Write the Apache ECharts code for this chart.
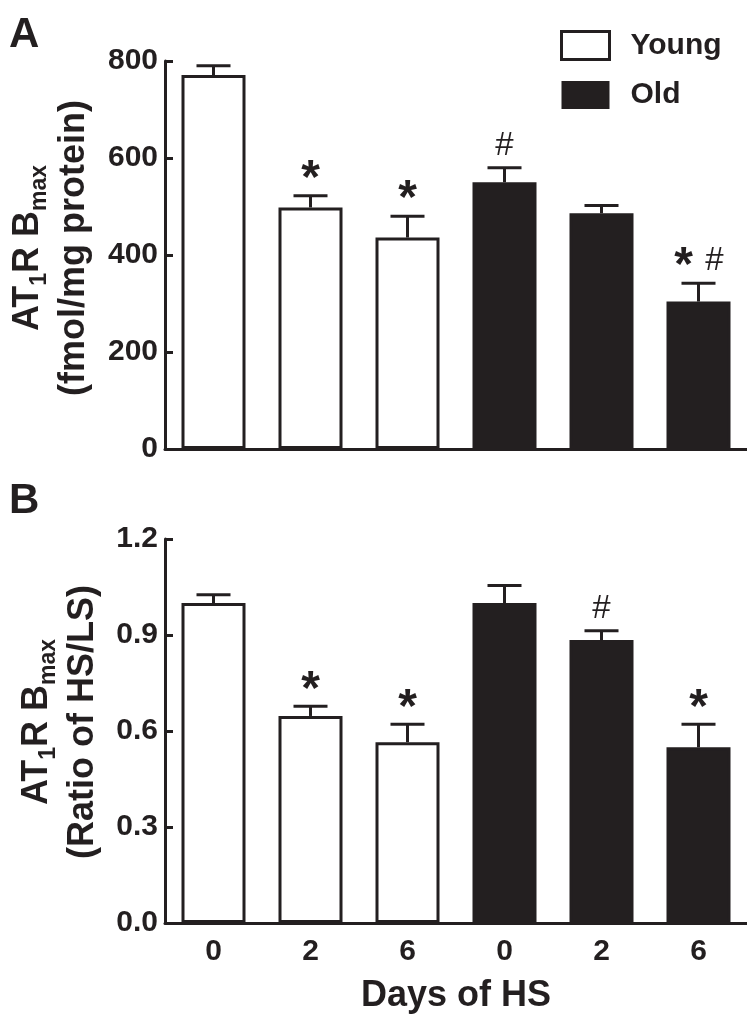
<!DOCTYPE html>
<html><head><meta charset="utf-8">
<script src="https://cdn.jsdelivr.net/npm/echarts@6/dist/echarts.min.js"></script>
<style>html,body{margin:0;padding:0;background:#fff}#c{width:747px;height:1023px}</style>
</head><body><div id="c"></div>
<script>
// ---- data ----
const categories = ['0', '2', '6', '0', '2', '6'];
const groups = ['Young', 'Young', 'Young', 'Old', 'Old', 'Old'];
const bmaxA = [771, 498, 436, 550, 486, 304];
const semA = [19, 24, 44, 30, 16, 38];
const sigA = ['', '*', '*', '#', '', '*#'];
const ratioB = [1.00, 0.647, 0.565, 1.00, 0.884, 0.549];
const semB = [0.026, 0.030, 0.056, 0.055, 0.029, 0.072];
const sigB = ['', '*', '*', '', '#', '*'];
const ticksA = [0, 200, 400, 600, 800];
const ticksB = [0.0, 0.3, 0.6, 0.9, 1.2];
const seriesNames = ['Young', 'Old'];

const INK = '#231f20';
const FONT = '"Liberation Sans", Arial, sans-serif';

function groupVals(vals, g) { return vals.map((v, i) => groups[i] === g ? v : '-'); }

function errRender(sigs) {
  return function (params, api) {
    const i = api.value(0), v = api.value(1), e = api.value(2);
    const p0 = api.coord([i, v]);
    const p1 = api.coord([i, v + e]);
    const children = [
      { type: 'line', shape: { x1: p0[0], y1: p0[1], x2: p1[0], y2: p1[1] }, style: { stroke: INK, lineWidth: 3 } },
      { type: 'line', shape: { x1: p1[0] - 17, y1: p1[1], x2: p1[0] + 17, y2: p1[1] }, style: { stroke: INK, lineWidth: 3 } }
    ];
    const s = sigs[params.dataIndex];
    const chars = s.split('');
    chars.forEach((ch, k) => {
      const dx = chars.length > 1 ? (k === 0 ? -15 : 16) : 0;
      const isStar = ch === '*';
      children.push({
        type: 'text',
        x: p1[0] + dx,
        y: p1[1] - (isStar ? 16 : 22),
        style: {
          text: ch, fill: INK, fontFamily: FONT,
          fontSize: isStar ? 48 : 33, fontWeight: isStar ? 'bold' : 'normal',
          align: 'center', verticalAlign: 'middle'
        }
      });
    });
    return { type: 'group', children };
  };
}

const chart = echarts.init(document.getElementById('c'), null, { renderer: 'canvas' });

const axisLine = { show: true, lineStyle: { color: INK, width: 3 } };

function yTitle(l2, x, y) {
  return {
    type: 'text', x: x, y: y, rotation: Math.PI / 2,
    style: {
      text: '{a|AT}{s|1}{a|R B}{s|max}\n{a|' + l2 + '}',
      align: 'center', verticalAlign: 'middle', fill: INK,
      rich: {
        a: { fontFamily: FONT, fontWeight: 'bold', fontSize: 36, lineHeight: 46, fill: INK },
        s: { fontFamily: FONT, fontWeight: 'bold', fontSize: 23, lineHeight: 32, verticalAlign: 'bottom', fill: INK }
      }
    }
  };
}

chart.setOption({
  animation: false,
  backgroundColor: '#fff',
  textStyle: { fontFamily: FONT },
  grid: [
    { left: 165, width: 582, top: 61, height: 388 },
    { left: 165, width: 582, top: 539, height: 384 }
  ],
  legend: {
    left: 560, top: 30, orient: 'vertical', itemWidth: 48, itemHeight: 28, itemGap: 19,
    padding: 0, selectedMode: false,
    textStyle: { fontSize: 30, fontWeight: 'bold', color: INK, fontFamily: FONT, padding: [0, 0, 0, 16] },
    data: [
      { name: seriesNames[0], icon: 'rect', itemStyle: { color: '#fff', borderColor: INK, borderWidth: 3 } },
      { name: seriesNames[1], icon: 'rect', itemStyle: { color: INK, borderColor: INK, borderWidth: 0 } }
    ]
  },
  xAxis: [
    { type: 'category', gridIndex: 0, data: categories, axisLine, axisTick: { show: false }, axisLabel: { show: false } },
    {
      type: 'category', gridIndex: 1, data: categories, axisLine, axisTick: { show: false },
      axisLabel: { fontSize: 30, fontWeight: 'bold', color: INK, margin: 14 },
      name: 'Days of HS', nameLocation: 'middle', nameGap: 55,
      nameTextStyle: { fontSize: 36, fontWeight: 'bold', color: INK }
    }
  ],
  yAxis: [
    {
      type: 'value', gridIndex: 0, min: ticksA[0], max: ticksA[ticksA.length - 1], interval: ticksA[1] - ticksA[0],
      axisLine, splitLine: { show: false },
      axisTick: { show: true, inside: true, length: 8, lineStyle: { color: INK, width: 3 } },
      axisLabel: { fontSize: 30, fontWeight: 'bold', color: INK, margin: 7 }
    },
    {
      type: 'value', gridIndex: 1, min: ticksB[0], max: ticksB[ticksB.length - 1], interval: ticksB[1] - ticksB[0],
      axisLine, splitLine: { show: false },
      axisTick: { show: true, inside: true, length: 8, lineStyle: { color: INK, width: 3 } },
      axisLabel: { fontSize: 30, fontWeight: 'bold', color: INK, margin: 7, formatter: v => v.toFixed(1) }
    }
  ],
  series: [
    { name: seriesNames[0], type: 'bar', xAxisIndex: 0, yAxisIndex: 0, data: groupVals(bmaxA, 'Young'), barWidth: 64, barGap: '-100%',
      itemStyle: { color: '#fff', borderColor: INK, borderWidth: 3 } },
    { name: seriesNames[1], type: 'bar', xAxisIndex: 0, yAxisIndex: 0, data: groupVals(bmaxA, 'Old'), barWidth: 64, barGap: '-100%',
      itemStyle: { color: INK, borderColor: INK, borderWidth: 3 } },
    { name: seriesNames[0], type: 'bar', xAxisIndex: 1, yAxisIndex: 1, data: groupVals(ratioB, 'Young'), barWidth: 64, barGap: '-100%',
      itemStyle: { color: '#fff', borderColor: INK, borderWidth: 3 } },
    { name: seriesNames[1], type: 'bar', xAxisIndex: 1, yAxisIndex: 1, data: groupVals(ratioB, 'Old'), barWidth: 64, barGap: '-100%',
      itemStyle: { color: INK, borderColor: INK, borderWidth: 3 } },
    { type: 'custom', xAxisIndex: 0, yAxisIndex: 0, z: 5, renderItem: errRender(sigA),
      encode: { x: 0, y: 1 }, data: bmaxA.map((v, i) => [i, v, semA[i]]) },
    { type: 'custom', xAxisIndex: 1, yAxisIndex: 1, z: 5, renderItem: errRender(sigB),
      encode: { x: 0, y: 1 }, data: ratioB.map((v, i) => [i, v, semB[i]]) }
  ],
  graphic: [
    { type: 'text', left: 9, top: 14, style: { text: 'A', fontFamily: FONT, fontWeight: 'bold', fontSize: 42, fill: INK } },
    { type: 'text', left: 9, top: 480, style: { text: 'B', fontFamily: FONT, fontWeight: 'bold', fontSize: 42, fill: INK } },
    yTitle('(fmol/mg protein)', 51, 248),
    yTitle('(Ratio of HS/LS)', 60, 722)
  ]
});
</script>
</body></html>
